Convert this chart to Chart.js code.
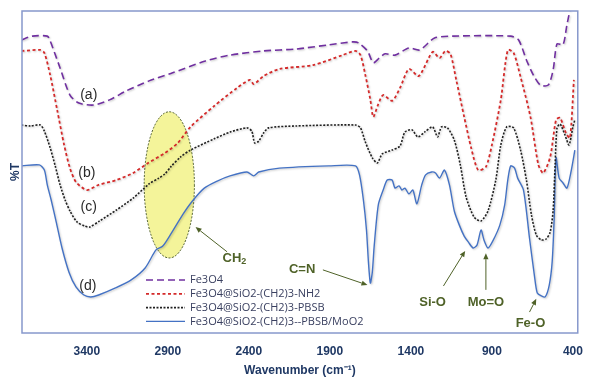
<!DOCTYPE html>
<html>
<head>
<meta charset="utf-8">
<script src="https://cdn.jsdelivr.net/npm/chart.js@4.4.1/dist/chart.umd.min.js"></script>
<style>
  html, body { margin: 0; padding: 0; background: #fff; }
</style>
</head>
<body>
<canvas id="ftir" width="594" height="380"></canvas>
<script>
// FTIR readings: wavenumber (cm-1) and transmittance for each sample
var waveA = [3803, 3736, 3644, 3626, 3565, 3504, 3449, 3357, 3260, 3156, 3016, 2870, 2668, 2516, 2309, 2107, 1906, 1760, 1723, 1668, 1632, 1595, 1559, 1498, 1412, 1345, 1254, 1144, 784, 735, 687, 644, 601, 552, 522, 498, 461, 437, 418];
var transA = [91.0, 92.2, 92.2, 90.7, 82.3, 73.9, 71.4, 70.8, 72.4, 75.2, 78.3, 80.8, 84.5, 86.3, 87.6, 88.2, 89.5, 90.4, 90.1, 87.6, 83.9, 85.4, 86.7, 86.3, 88.5, 87.9, 91.6, 92.2, 92.2, 91.0, 84.8, 80.1, 77.0, 77.0, 81.7, 89.8, 89.5, 95.7, 100.3];

var waveB = [3803, 3687, 3662, 3626, 3583, 3540, 3504, 3467, 3400, 3327, 3217, 3114, 3022, 2918, 2839, 2760, 2614, 2473, 2394, 2370, 2309, 2211, 2004, 1821, 1742, 1711, 1681, 1650, 1632, 1601, 1571, 1516, 1467, 1412, 1351, 1266, 1223, 1187, 1156, 1120, 1071, 1028, 985, 937, 900, 845, 802, 766, 723, 662, 613, 583, 540, 504, 479, 443, 418, 394];
var transB = [87.6, 87.9, 87.0, 80.1, 69.3, 58.4, 51.2, 46.9, 44.4, 46.0, 47.5, 49.7, 52.8, 55.9, 59.0, 64.0, 70.5, 76.1, 78.6, 77.3, 79.8, 82.0, 83.2, 86.3, 87.6, 86.3, 80.1, 72.4, 67.1, 71.1, 73.9, 72.1, 76.1, 82.0, 79.8, 87.3, 85.4, 87.6, 86.7, 78.6, 67.1, 57.5, 50.6, 51.6, 58.4, 72.4, 87.9, 87.0, 79.5, 67.1, 52.2, 49.7, 54.7, 66.2, 66.8, 62.1, 60.6, 78.6];

var waveC = [3803, 3748, 3687, 3662, 3626, 3595, 3565, 3534, 3504, 3461, 3412, 3382, 3321, 3217, 3114, 3016, 2955, 2918, 2882, 2821, 2760, 2614, 2516, 2412, 2382, 2364, 2339, 2309, 2278, 2107, 1742, 1711, 1681, 1638, 1607, 1577, 1516, 1467, 1437, 1394, 1357, 1315, 1266, 1235, 1211, 1174, 1132, 1095, 1059, 1010, 967, 924, 876, 845, 809, 766, 723, 687, 656, 626, 595, 565, 540, 522, 510, 498, 479, 449, 424, 400, 388];
var transC = [64.6, 64.3, 64.6, 62.7, 57.5, 51.9, 46.0, 41.3, 37.9, 34.5, 33.2, 32.9, 34.8, 38.2, 41.9, 46.3, 48.1, 49.4, 51.6, 54.7, 56.8, 60.3, 62.4, 63.7, 62.7, 59.0, 59.6, 62.1, 63.7, 64.3, 64.6, 63.7, 59.3, 54.4, 52.8, 55.6, 56.8, 58.1, 62.4, 63.1, 60.9, 62.4, 64.0, 60.9, 64.0, 63.7, 59.9, 52.2, 42.2, 36.0, 34.8, 37.9, 47.5, 58.4, 64.0, 63.7, 56.8, 47.5, 36.7, 30.4, 28.9, 29.2, 31.4, 38.2, 52.2, 63.7, 64.9, 61.5, 58.4, 64.0, 66.2];

var waveD = [3803, 3693, 3662, 3644, 3620, 3589, 3553, 3510, 3467, 3418, 3376, 3327, 3223, 3126, 3040, 2973, 2931, 2882, 2809, 2748, 2675, 2595, 2516, 2412, 2370, 2339, 2211, 1906, 1742, 1717, 1693, 1674, 1662, 1650, 1638, 1626, 1601, 1571, 1546, 1516, 1498, 1473, 1455, 1437, 1412, 1388, 1363, 1333, 1309, 1272, 1248, 1223, 1193, 1162, 1132, 1101, 1071, 1046, 1016, 992, 967, 949, 924, 894, 851, 821, 802, 784, 760, 741, 705, 668, 638, 620, 595, 571, 546, 528, 516, 504, 485, 461, 437, 412, 388];
var transD = [51.9, 52.2, 50.6, 46.0, 41.3, 34.5, 26.4, 18.9, 14.3, 11.8, 11.2, 11.8, 14.0, 16.5, 20.2, 25.8, 27.0, 30.7, 36.7, 41.0, 45.0, 47.2, 48.8, 50.0, 48.8, 50.0, 51.2, 51.9, 51.9, 49.1, 41.3, 32.0, 22.1, 15.5, 18.9, 27.3, 39.8, 44.4, 47.5, 47.5, 45.0, 45.7, 44.4, 45.0, 43.2, 44.4, 40.1, 46.0, 49.1, 50.0, 49.7, 48.1, 50.6, 46.0, 37.9, 33.5, 30.1, 28.3, 26.4, 27.3, 32.0, 28.9, 26.4, 28.6, 33.5, 39.8, 47.5, 51.9, 51.2, 48.1, 44.4, 29.5, 18.0, 12.4, 11.5, 11.2, 14.9, 22.1, 35.1, 54.4, 48.1, 46.6, 45.0, 50.0, 56.8];

var seriesNames = ['Fe3O4', 'Fe3O4@SiO2-(CH2)3-NH2', 'Fe3O4@SiO2-(CH2)3-PBSB', 'Fe3O4@SiO2-(CH2)3--PBSB/MoO2'];
var xTicks = [3400, 2900, 2400, 1900, 1400, 900, 400];

// curve letters and band assignments, placed in data units
var curveTags = [
  { text: '(a)', x: 3388, y: 73.9 },
  { text: '(b)', x: 3400, y: 49.7 },
  { text: '(c)', x: 3388, y: 39.1 },
  { text: '(d)', x: 3394, y: 14.6 }
];
var bandNotes = [
  { text: 'CH', sub: '2', x: 2486, y: 23.3, from: [2534, 25.2], to: [2729, 32.9] },
  { text: 'C=N', x: 2071, y: 19.6, from: [1943, 19.6], to: [1668, 14.9] },
  { text: 'Si-O', x: 1266, y: 9.6, from: [1199, 14.6], to: [1065, 25.5] },
  { text: 'Mo=O', x: 937, y: 9.6, from: [937, 13.4], to: [937, 24.8] },
  { text: 'Fe-O', x: 662, y: 3.1, from: [668, 6.5], to: [626, 10.6] }
];
var ch2Zone = { x: 2891, y: 46.0, rx: 155, ry: 22.7 };

var navy = '#1f3864';
var green = '#4f6228';

function pts(w, t) {
  return w.map(function (v, i) { return { x: v, y: t[i] }; });
}

function arrow(ctx, x1, y1, x2, y2) {
  var ang = Math.atan2(y2 - y1, x2 - x1);
  var hl = 6, hw = 2.6;
  ctx.beginPath();
  ctx.moveTo(x1, y1);
  ctx.lineTo(x2 - Math.cos(ang) * hl, y2 - Math.sin(ang) * hl);
  ctx.stroke();
  ctx.beginPath();
  ctx.moveTo(x2, y2);
  ctx.lineTo(x2 - Math.cos(ang) * hl - Math.sin(ang) * hw, y2 - Math.sin(ang) * hl + Math.cos(ang) * hw);
  ctx.lineTo(x2 - Math.cos(ang) * hl + Math.sin(ang) * hw, y2 - Math.sin(ang) * hl - Math.cos(ang) * hw);
  ctx.closePath();
  ctx.fill();
}

var decor = {
  id: 'decor',
  beforeDatasetsDraw: function (chart) {
    var ctx = chart.ctx, xs = chart.scales.x, ys = chart.scales.y;
    var cx = xs.getPixelForValue(ch2Zone.x), cy = ys.getPixelForValue(ch2Zone.y);
    var rx = Math.abs(xs.getPixelForValue(ch2Zone.x + ch2Zone.rx) - cx);
    var ry = Math.abs(ys.getPixelForValue(ch2Zone.y + ch2Zone.ry) - cy);
    ctx.save();
    ctx.beginPath();
    ctx.ellipse(cx, cy, rx, ry, 0, 0, Math.PI * 2);
    ctx.fillStyle = 'rgba(240, 240, 120, 0.75)';
    ctx.fill();
    ctx.setLineDash([2, 1.5]);
    ctx.lineWidth = 1;
    ctx.strokeStyle = '#4a5a2a';
    ctx.stroke();
    ctx.restore();
  },
  beforeDatasetDraw: function (chart) {
    var ctx = chart.ctx;
    ctx.save();
    ctx.shadowColor = 'rgba(0,0,0,0.22)';
    ctx.shadowBlur = 2;
    ctx.shadowOffsetX = 1;
    ctx.shadowOffsetY = 1;
  },
  afterDatasetDraw: function (chart) {
    chart.ctx.restore();
  },
  afterDraw: function (chart) {
    var ctx = chart.ctx, a = chart.chartArea, xs = chart.scales.x, ys = chart.scales.y;
    ctx.save();
    // frame
    ctx.strokeStyle = '#8798cc';
    ctx.lineWidth = 1.5;
    ctx.strokeRect(a.left, a.top, a.right - a.left, a.bottom - a.top);

    // curve letters
    ctx.fillStyle = '#2a2a2a';
    ctx.font = '14px "Liberation Sans", Arial, sans-serif';
    ctx.textAlign = 'center';
    ctx.textBaseline = 'middle';
    curveTags.forEach(function (t) {
      ctx.fillText(t.text, xs.getPixelForValue(t.x), ys.getPixelForValue(t.y));
    });

    // band assignments
    ctx.fillStyle = green;
    ctx.strokeStyle = green;
    ctx.lineWidth = 1;
    bandNotes.forEach(function (n) {
      var px = xs.getPixelForValue(n.x), py = ys.getPixelForValue(n.y);
      ctx.font = 'bold 13px "Liberation Sans", Arial, sans-serif';
      if (n.sub) {
        var w1 = ctx.measureText(n.text).width;
        ctx.textAlign = 'left';
        ctx.fillText(n.text, px - (w1 + 6) / 2, py);
        ctx.font = 'bold 9px "Liberation Sans", Arial, sans-serif';
        ctx.fillText(n.sub, px - (w1 + 6) / 2 + w1, py + 4);
        ctx.textAlign = 'center';
      } else {
        ctx.fillText(n.text, px, py);
      }
      arrow(ctx, xs.getPixelForValue(n.from[0]), ys.getPixelForValue(n.from[1]),
        xs.getPixelForValue(n.to[0]), ys.getPixelForValue(n.to[1]));
    });

    // legend inside the plot
    var lx = 146, ly = 280, step = 13.8;
    ctx.textAlign = 'left';
    ctx.font = '11px "Open Sans", sans-serif';
    chart.data.datasets.forEach(function (ds, i) {
      var y = ly + i * step;
      ctx.strokeStyle = ds.borderColor;
      ctx.lineWidth = ds.borderWidth;
      ctx.setLineDash(ds.borderDash || []);
      ctx.beginPath();
      ctx.moveTo(lx, y);
      ctx.lineTo(lx + 39, y);
      ctx.stroke();
      ctx.fillStyle = '#3a4060';
      ctx.fillText(ds.label, lx + 44, y);
    });
    ctx.restore();
  }
};

new Chart(document.getElementById('ftir'), {
  type: 'line',
  data: {
    datasets: [
      { label: seriesNames[0], data: pts(waveA, transA), borderColor: '#7030a0', borderWidth: 1.6, borderDash: [7, 4] },
      { label: seriesNames[1], data: pts(waveB, transB), borderColor: '#d42a2a', borderWidth: 1.8, borderDash: [3, 2.5] },
      { label: seriesNames[2], data: pts(waveC, transC), borderColor: '#202020', borderWidth: 1.6, borderDash: [2, 1.5] },
      { label: seriesNames[3], data: pts(waveD, transD), borderColor: '#4472c4', borderWidth: 1.4 }
    ]
  },
  options: {
    responsive: false,
    animation: false,
    layout: { padding: { left: 0, top: 11, right: 9, bottom: 0 } },
    elements: { point: { radius: 0 }, line: { tension: 0.25 } },
    plugins: { legend: { display: false }, tooltip: { enabled: false } },
    scales: {
      x: {
        type: 'linear',
        reverse: true,
        min: 370,
        max: 3800,
        grid: { display: false, drawTicks: false },
        border: { display: false },
        afterFit: function (s) { s.height = 47; },
        afterBuildTicks: function (s) { s.ticks = xTicks.map(function (v) { return { value: v }; }); },
        ticks: {
          color: navy, padding: 11, maxRotation: 0, autoSkip: false,
          font: { family: '"Liberation Sans", Arial', size: 12, weight: 'bold' },
          callback: function (v) { return String(v); }
        },
        title: { display: true, text: 'Wavenumber (cm\u207B\u00B9)', color: navy, padding: { top: 0, bottom: 2 }, font: { family: '"Liberation Sans", Arial', size: 12, weight: 'bold' } }
      },
      y: {
        min: 0,
        max: 100,
        grid: { display: false, drawTicks: false },
        border: { display: false },
        ticks: { display: false },
        afterFit: function (s) { s.width = 22; },
        title: { display: true, text: '%T', color: navy, padding: { top: 8, bottom: 0 }, font: { family: '"Liberation Sans", Arial', size: 12, weight: 'bold' } }
      }
    }
  },
  plugins: [decor]
});
</script>
</body>
</html>
